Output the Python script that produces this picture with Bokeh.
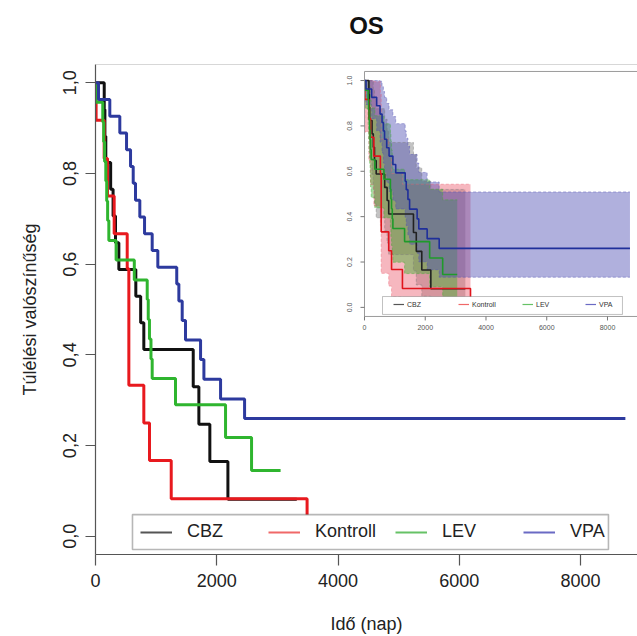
import math
from bokeh.plotting import figure
from bokeh.models import (Range1d, Legend, LegendItem, BoxAnnotation, Span, FixedTicker, LinearAxis)
from bokeh.embed import file_html
from bokeh.resources import INLINE
from bokeh.core.properties import value

# ---------------- data ----------------
groups = ["CBZ", "Kontroll", "LEV", "VPA"]

cbz_time = [0, 144, 155, 170, 250, 290, 330, 385, 665, 745, 797, 1612, 1705, 1886, 2184, 3320]
cbz_surv = [1.0, 0.941, 0.882, 0.824, 0.765, 0.706, 0.647, 0.588, 0.529, 0.471, 0.412, 0.330, 0.247, 0.165, 0.082, 0.082]
cbz_upper = [1.0, 1.0, 1.0, 1.0, 0.996, 0.959, 0.919, 0.876, 0.829, 0.779, 0.727, 0.676, 0.616, 0.556, 0.520, 0.520]
cbz_lower = [1.0, 0.835, 0.741, 0.661, 0.587, 0.519, 0.456, 0.395, 0.338, 0.284, 0.233, 0.161, 0.099, 0.049, 0.013, 0.013]

kon_time = [0, 10, 143, 198, 308, 523, 550, 797, 891, 1249, 3490]
kon_surv = [1.0, 0.917, 0.833, 0.750, 0.667, 0.590, 0.333, 0.250, 0.167, 0.083, 0.0]
kon_upper = [1.0, 1.0, 1.0, 1.0, 0.995, 0.940, 0.742, 0.665, 0.590, 0.543, 0.543]
kon_lower = [1.0, 0.773, 0.647, 0.541, 0.447, 0.362, 0.150, 0.094, 0.047, 0.013, 0.013]

lev_time = [0, 10, 120, 135, 150, 170, 185, 200, 220, 340, 640, 853, 870, 890, 915, 935, 1320, 2145, 2574, 3053]
lev_surv = [1.0, 0.957, 0.913, 0.870, 0.826, 0.783, 0.739, 0.696, 0.652, 0.609, 0.565, 0.522, 0.478, 0.435, 0.391, 0.348, 0.290, 0.218, 0.145, 0.145]
lev_upper = [1.0, 1.0, 1.0, 1.0, 0.996, 0.971, 0.942, 0.912, 0.879, 0.845, 0.809, 0.772, 0.733, 0.693, 0.651, 0.609, 0.563, 0.521, 0.474, 0.474]
lev_lower = [1.0, 0.877, 0.805, 0.743, 0.685, 0.631, 0.580, 0.531, 0.484, 0.439, 0.395, 0.353, 0.312, 0.273, 0.235, 0.199, 0.149, 0.091, 0.044, 0.044]

vpa_time = [0, 50, 236, 401, 512, 578, 622, 660, 731, 809, 935, 1028, 1340, 1375, 1430, 1485, 1733, 1788, 2063, 2459, 8740]
vpa_surv = [1.0, 0.963, 0.926, 0.889, 0.852, 0.815, 0.778, 0.741, 0.704, 0.667, 0.630, 0.593, 0.556, 0.519, 0.476, 0.433, 0.390, 0.346, 0.303, 0.260, 0.260]
vpa_upper = [1.0, 1.0, 1.0, 1.0, 0.997, 0.975, 0.952, 0.926, 0.899, 0.871, 0.841, 0.810, 0.778, 0.746, 0.711, 0.674, 0.636, 0.595, 0.553, 0.509, 0.509]
vpa_lower = [1.0, 0.894, 0.832, 0.778, 0.728, 0.681, 0.636, 0.593, 0.551, 0.511, 0.471, 0.434, 0.397, 0.360, 0.318, 0.278, 0.239, 0.201, 0.166, 0.133, 0.133]

y_ticks = [0.0, 0.2, 0.4, 0.6, 0.8, 1.0]
y_tick_labels = ["0,0", "0,2", "0,4", "0,6", "0,8", "1,0"]
x_ticks = [0, 2000, 4000, 6000, 8000]
inset_y_tick_labels = ["0.0", "0.2", "0.4", "0.6", "0.8", "1.0"]
inset_x_tick_labels = ["0", "2000", "4000", "6000", "8000"]

title_text = "OS"
x_label = "Idő (nap)"
y_label = "Túlélési valószínűség"

# ---------------- styles ----------------
FONT = "Liberation Sans"
line_colors = ["#111111", "#e8191e", "#2fb52f", "#2d3a9e"]
legend_colors = ["#555555", "#f06868", "#66c266", "#6a6ac4"]
band_colors = ["#7a7a7a", "#ec6070", "#40b030", "#5050b4"]
inset_line_colors = ["#222222", "#e0141c", "#1f9a2a", "#1f2f9a"]

series = [
    (cbz_time, cbz_surv, cbz_upper, cbz_lower),
    (kon_time, kon_surv, kon_upper, kon_lower),
    (lev_time, lev_surv, lev_upper, lev_lower),
    (vpa_time, vpa_surv, vpa_upper, vpa_lower),
]


def step_expand(t, v):
    xs, ys = [], []
    for i in range(len(t)):
        if i > 0:
            xs.append(t[i])
            ys.append(v[i - 1])
        xs.append(t[i])
        ys.append(v[i])
    return xs, ys


# ---------------- main figure ----------------
X_END = 8940
p = figure(width=637, height=636, x_range=Range1d(0, X_END), y_range=Range1d(-0.04, 1.04),
           min_border_left=95, min_border_right=0, min_border_top=64, min_border_bottom=80,
           toolbar_location=None, output_backend="svg")
p.xgrid.visible = False
p.ygrid.visible = False
p.outline_line_color = None
p.background_fill_color = "white"
p.border_fill_color = "white"

for ax in (p.xaxis[0], p.yaxis[0]):
    ax.axis_line_color = "#555555"
    ax.axis_line_width = 1.2
    ax.major_tick_line_color = "#555555"
    ax.major_tick_line_width = 1.2
    ax.major_tick_in = 0
    ax.minor_tick_in = 0
    ax.minor_tick_out = 0
    ax.major_label_text_font = FONT
    ax.major_label_text_font_size = "18px"
    ax.major_label_text_color = "#222222"
    ax.axis_label_text_font = FONT
    ax.axis_label_text_font_size = "18px"
    ax.axis_label_text_font_style = "normal"
    ax.axis_label_text_color = "#222222"

p.yaxis[0].ticker = FixedTicker(ticks=y_ticks)
p.yaxis[0].major_label_overrides = {v: s for v, s in zip(y_ticks, y_tick_labels)}
p.yaxis[0].major_label_orientation = "vertical"
p.yaxis[0].major_tick_out = 10
p.yaxis[0].major_label_standoff = 9
p.yaxis[0].axis_label = y_label
p.yaxis[0].axis_label_standoff = 21

p.xaxis[0].ticker = FixedTicker(ticks=x_ticks)
p.xaxis[0].major_tick_out = 11
p.xaxis[0].major_label_standoff = 8
p.xaxis[0].axis_label = x_label
p.xaxis[0].axis_label_standoff = 24

# title as the label of an empty axis above the frame
title_axis = LinearAxis(ticker=FixedTicker(ticks=[]), axis_line_color=None,
                        major_tick_line_color=None, minor_tick_line_color=None,
                        axis_label=title_text, axis_label_text_font=FONT,
                        axis_label_text_font_style="bold", axis_label_text_font_size="24px",
                        axis_label_text_color="#111111", axis_label_standoff=26)
p.add_layout(title_axis, "above")

p.add_layout(Span(location=1.04, dimension="width", line_color="#b0b0b0", line_width=1.2))

# ---------------- inset (same figure, own ranges) ----------------
IPX_X = 1000 / 30.375          # inset x units per pixel
IPX_Y = 1.08 / 246             # inset y units per pixel
IX_START, IX_END = -8856, 8988
IY_START, IY_END = -1.0893, 1.0707
p.extra_x_ranges = {"ix": Range1d(IX_START, IX_END)}
p.extra_y_ranges = {"iy": Range1d(IY_START, IY_END)}
IR = dict(x_range_name="ix", y_range_name="iy")

for (t, s, up, lo), bc in zip(series, band_colors):
    xs, yu = step_expand(t, up)
    _, yl = step_expand(t, lo)
    p.varea(x=xs, y1=yl, y2=yu, fill_color=bc, fill_alpha=0.45, **IR)
for (t, s, up, lo), bc in zip(series, band_colors):
    p.step(x=t, y=up, mode="after", line_color=bc, line_width=0.8, line_dash="3 2", line_alpha=0.55, **IR)
    p.step(x=t, y=lo, mode="after", line_color=bc, line_width=0.8, line_dash="3 2", line_alpha=0.55, **IR)
for (t, s, up, lo), lc in zip(series, inset_line_colors):
    p.step(x=t, y=s, mode="after", line_color=lc, line_width=1.6, **IR)

# inset frame
p.multi_line(xs=[[0, IX_END], [0, 0], [0, IX_END]], ys=[[1.04, 1.04], [-0.04, 1.04], [-0.04, -0.04]],
             line_color="#9a9a9a", line_width=1, **IR)
# inset ticks and tick labels
p.segment(x0=[0] * len(y_ticks), x1=[-4 * IPX_X] * len(y_ticks), y0=y_ticks, y1=y_ticks,
          line_color="#777777", line_width=1, **IR)
p.segment(x0=x_ticks, x1=x_ticks, y0=[-0.04] * len(x_ticks), y1=[-0.04 - 4 * IPX_Y] * len(x_ticks),
          line_color="#777777", line_width=1, **IR)
p.text(x=[-15 * IPX_X] * len(y_ticks), y=y_ticks, text=inset_y_tick_labels, angle=math.pi / 2,
       text_font=value(FONT), text_font_size="7px", text_color="#555555",
       text_align="center", text_baseline="middle", **IR)
p.text(x=x_ticks, y=[-0.04 - 11 * IPX_Y] * len(x_ticks), text=inset_x_tick_labels,
       text_font=value(FONT), text_font_size="7px", text_color="#555555",
       text_align="center", text_baseline="middle", **IR)

# ---------------- main curves ----------------
for (t, s, up, lo), lc in zip(series, line_colors):
    p.step(x=t, y=s, mode="after", line_color=lc, line_width=3)

# ---------------- legends ----------------
p.add_layout(BoxAnnotation(left=4734, right=8692, top=0.5286, bottom=0.4891,
                           fill_color="white", fill_alpha=1.0, line_color="#333333", line_width=1))
p.add_layout(BoxAnnotation(left=610, right=8461, top=0.0479, bottom=-0.0289,
                           fill_color="white", fill_alpha=1.0, line_color="#111111", line_width=1.6))

NAN = float("nan")
main_offsets = [45, 173, 300, 428]
inset_offsets = [298, 363, 427, 490]
for g, col, off, ioff in zip(groups, legend_colors, main_offsets, inset_offsets):
    dummy = p.line(x=[NAN], y=[NAN], line_color=col, line_width=2)
    leg = Legend(items=[LegendItem(label=g, renderers=[dummy])], location=(off, 12),
                 orientation="horizontal", glyph_width=32, glyph_height=20, label_height=20,
                 label_standoff=15, padding=0, margin=0, spacing=0,
                 border_line_color=None, background_fill_alpha=0,
                 label_text_font=FONT, label_text_font_size="18px", label_text_color="#222222")
    p.add_layout(leg)
    dummy2 = p.line(x=[NAN], y=[NAN], line_color=col, line_width=1.2)
    leg2 = Legend(items=[LegendItem(label=g, renderers=[dummy2])], location=(ioff, 245),
                  orientation="horizontal", glyph_width=11, glyph_height=10, label_height=10,
                  label_standoff=3, padding=0, margin=0, spacing=0,
                  border_line_color=None, background_fill_alpha=0,
                  label_text_font=FONT, label_text_font_size="7px", label_text_color="#333333")
    p.add_layout(leg2)

open("out.html", "w").write(file_html(p, INLINE))
